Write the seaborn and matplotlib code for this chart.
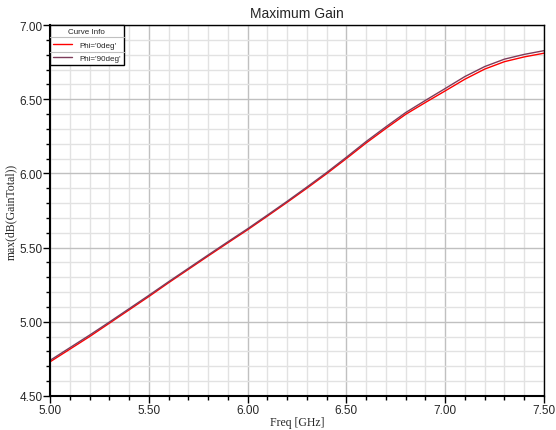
import numpy as np
import pandas as pd
import matplotlib
matplotlib.use("Agg")
import matplotlib.pyplot as plt
from matplotlib.ticker import MultipleLocator, FormatStrFormatter
from matplotlib.lines import Line2D
import seaborn as sns

# frequency points (GHz)
freq = [5.0, 5.1, 5.2, 5.3, 5.4, 5.5, 5.6, 5.7, 5.8, 5.9,
        6.0, 6.1, 6.2, 6.3, 6.4, 6.5, 6.6, 6.7, 6.8, 6.9,
        7.0, 7.1, 7.2, 7.3, 7.4, 7.5]

# max(dB(GainTotal)) per cut
gain_phi0 = [4.730, 4.815, 4.900, 4.990, 5.080, 5.170, 5.263, 5.353, 5.443, 5.532,
             5.620, 5.712, 5.805, 5.900, 5.998, 6.100, 6.205, 6.303, 6.398, 6.478,
             6.556, 6.635, 6.703, 6.753, 6.785, 6.810]
gain_phi90 = [4.740, 4.825, 4.910, 4.998, 5.088, 5.178, 5.270, 5.360, 5.450, 5.539,
              5.627, 5.719, 5.812, 5.908, 6.006, 6.109, 6.215, 6.314, 6.410, 6.492,
              6.572, 6.653, 6.720, 6.770, 6.802, 6.827]

labels = ["Phi='0deg'", "Phi='90deg'"]
colors = ["#ff0000", "#7d3c5a"]

df = pd.DataFrame({
    "freq": freq * 2,
    "gain": gain_phi0 + gain_phi90,
    "curve": [labels[0]] * len(freq) + [labels[1]] * len(freq),
})

sns.set_theme(style="white")
plt.rcParams["font.family"] = ["Liberation Sans", "DejaVu Sans"]

fig = plt.figure(figsize=(5.56, 4.31), dpi=100)
ax = fig.add_axes([50 / 556, 34 / 431, 494 / 556, 371 / 431])

# grid first so curves sit on top
ax.xaxis.set_major_locator(MultipleLocator(0.5))
ax.xaxis.set_minor_locator(MultipleLocator(0.1))
ax.yaxis.set_major_locator(MultipleLocator(0.5))
ax.yaxis.set_minor_locator(MultipleLocator(0.1))
ax.grid(which="major", color="#c0c0c0", linewidth=1.0)
ax.grid(which="minor", color="#e2e2e2", linewidth=1.0)
ax.set_axisbelow(True)

sns.lineplot(data=df, x="freq", y="gain", hue="curve", palette=colors,
             linewidth=1.0, ax=ax, legend=False)

ax.set_xlim(5.0, 7.5)
ax.set_ylim(4.5, 7.0)
ax.xaxis.set_major_formatter(FormatStrFormatter("%.2f"))
ax.yaxis.set_major_formatter(FormatStrFormatter("%.2f"))

ax.tick_params(which="major", direction="out", length=5, width=1, color="black",
               labelsize=8.5, pad=0.5, bottom=True, left=True)
ax.tick_params(which="minor", direction="out", length=3, width=1, color="black",
               bottom=True, left=True)

for s in ax.spines.values():
    s.set_color("black")
    s.set_linewidth(1.0)
ax.spines["left"].set_linewidth(1.5)
ax.spines["bottom"].set_linewidth(1.5)

ax.set_title("Maximum Gain", fontsize=10, pad=6)
ax.set_xlabel("Freq [GHz]", family="Liberation Serif", fontsize=8.5, labelpad=0)
ax.set_ylabel("max(dB(GainTotal))", family="Liberation Serif", fontsize=8.5)
ax.yaxis.set_label_coords(-33 / 494, 0.5)

handles = [Line2D([0], [0], color=c, linewidth=1.0) for c in colors]
leg = ax.legend(handles, labels, title="Curve Info", loc="upper left",
                bbox_to_anchor=(0, 1), borderaxespad=0, fontsize=5.8,
                title_fontsize=5.8, frameon=True, fancybox=False,
                edgecolor="black", framealpha=1, handlelength=2.4,
                handletextpad=0.9, borderpad=0.35, labelspacing=0.75)
leg.get_frame().set_linewidth(1.0)

# separator lines inside the legend box
fig.canvas.draw()
bb = leg.get_window_extent().transformed(fig.transFigure.inverted())
for frac in (11.7 / 37.7, 25.3 / 37.7):
    y = bb.y1 - frac * (bb.y1 - bb.y0)
    fig.add_artist(Line2D([bb.x0, bb.x1], [y, y], transform=fig.transFigure,
                          color="#c0c0c0", linewidth=0.8))

fig.savefig("out.png", dpi=100)
